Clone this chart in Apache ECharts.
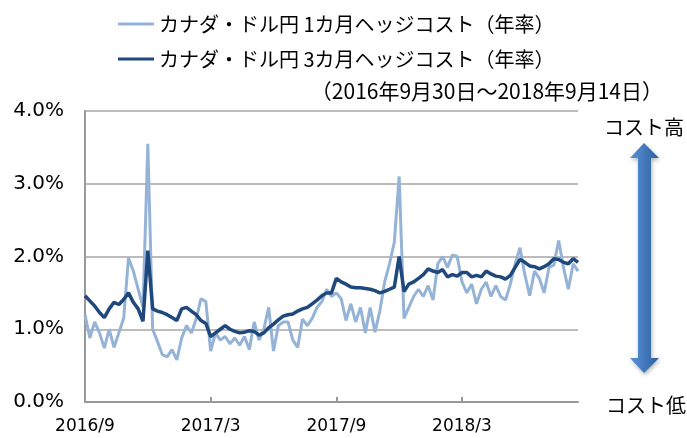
<!DOCTYPE html>
<html>
<head>
<meta charset="utf-8">
<script src="https://cdn.jsdelivr.net/npm/echarts@6/dist/echarts.min.js"></script>
<style>
  html, body { margin: 0; padding: 0; background: #fff; }
  #chart { width: 687px; height: 438px; }
</style>
</head>
<body>
<div id="chart"></div>
<script>
// 週次（金曜）の観測日：2016/9/30 から 2018/9/14 まで
var startDate = '2016/09/30';
var weekCount = 103;

// 1カ月ヘッジコスト（年率、%）
var cost1m = [
  1.20, 0.88, 1.10, 0.95, 0.74, 1.00, 0.75, 0.95, 1.15, 1.98,
  1.80, 1.55, 1.30, 3.55, 1.00, 0.83, 0.65, 0.62, 0.72, 0.58,
  0.88, 1.05, 0.95, 1.14, 1.42, 1.38, 0.70, 0.95, 0.85, 0.90,
  0.80, 0.88, 0.78, 0.90, 0.72, 1.10, 0.85, 1.00, 1.30, 0.70,
  1.05, 1.10, 1.10, 0.85, 0.75, 1.14, 1.05, 1.15, 1.30, 1.38,
  1.55, 1.45, 1.50, 1.42, 1.12, 1.35, 1.10, 1.30, 0.95, 1.30,
  0.96, 1.25, 1.65, 1.90, 2.20, 3.10, 1.15, 1.30, 1.45, 1.55,
  1.45, 1.60, 1.40, 1.90, 2.00, 1.85, 2.02, 2.00, 1.65, 1.50,
  1.62, 1.35, 1.55, 1.65, 1.45, 1.60, 1.45, 1.40, 1.62, 1.90,
  2.12, 1.75, 1.46, 1.80, 1.70, 1.50, 1.85, 1.88, 2.22, 1.85,
  1.55, 1.90, 1.80
];

// 3カ月ヘッジコスト（年率、%）
var cost3m = [
  1.46, 1.39, 1.32, 1.23, 1.16, 1.28, 1.37, 1.34, 1.41, 1.50,
  1.37, 1.28, 1.11, 2.08, 1.28, 1.25, 1.23, 1.20, 1.16, 1.12,
  1.28, 1.30, 1.25, 1.20, 1.12, 1.08, 0.90, 0.95, 1.00, 1.05,
  1.00, 0.97, 0.95, 0.96, 0.98, 0.97, 0.92, 0.95, 1.02, 1.07,
  1.13, 1.18, 1.20, 1.21, 1.25, 1.28, 1.30, 1.35, 1.40, 1.46,
  1.50, 1.50, 1.70, 1.65, 1.62, 1.58, 1.57, 1.57, 1.56, 1.55,
  1.53, 1.50, 1.52, 1.55, 1.58, 2.00, 1.52, 1.62, 1.65, 1.70,
  1.75, 1.83, 1.80, 1.78, 1.82, 1.72, 1.75, 1.73, 1.78, 1.78,
  1.72, 1.74, 1.72, 1.80, 1.76, 1.73, 1.72, 1.69, 1.74, 1.85,
  1.96, 1.92, 1.87, 1.86, 1.83, 1.86, 1.90, 1.97, 1.96, 1.92,
  1.90, 1.97, 1.92
];

var seriesNames = ['カナダ・ドル円 1カ月ヘッジコスト（年率）', 'カナダ・ドル円 3カ月ヘッジコスト（年率）'];
var periodText = '（2016年9月30日～2018年9月14日）';
var yTicks = [0, 1, 2, 3, 4];

var dates = [];
var d0 = new Date(startDate);
for (var i = 0; i < weekCount; i++) {
  var d = new Date(d0.getTime() + i * 7 * 86400000);
  dates.push(d.getFullYear() + '/' + (d.getMonth() + 1) + '/' + d.getDate());
}

var jp = 'Noto Sans CJK JP';
var chart = echarts.init(document.getElementById('chart'));

var option = {
  animation: false,
  color: ['#95b3d7', '#1f497d'],
  grid: { left: 85, right: 109, top: 111, bottom: 36 },
  legend: {
    orient: 'vertical',
    left: 113,
    top: 9,
    icon: 'rect',
    itemWidth: 36,
    itemHeight: 3,
    itemGap: 15,
    textStyle: { fontFamily: jp, fontSize: 20, color: '#000' },
    data: seriesNames
  },
  xAxis: {
    type: 'category',
    data: dates,
    boundaryGap: false,
    axisLine: { lineStyle: { color: '#999', width: 2 } },
    axisTick: {
      inside: true, length: 5, lineStyle: { color: '#999', width: 2 },
      interval: function (idx) { return idx % 26 === 0; }
    },
    axisLabel: {
      interval: function (idx) { return idx % 26 === 0; },
      formatter: function (v) { var p = v.split('/'); return p[0] + '/' + p[1]; },
      fontFamily: 'DejaVu Sans', fontSize: 17, color: '#000', margin: 16
    }
  },
  yAxis: {
    type: 'value',
    min: yTicks[0],
    max: yTicks[yTicks.length - 1],
    interval: 1,
    axisLine: { show: true, lineStyle: { color: '#999', width: 2 } },
    axisTick: { show: false },
    splitLine: { lineStyle: { color: '#a6a6a6', width: 1.5 } },
    axisLabel: {
      formatter: function (v) { return v.toFixed(1) + '%'; },
      fontFamily: 'DejaVu Sans', fontSize: 20, color: '#000', margin: 21
    }
  },
  series: [
    {
      name: seriesNames[0], type: 'line', data: cost1m,
      symbol: 'none', lineStyle: { width: 3, color: '#95b3d7' }
    },
    {
      name: seriesNames[1], type: 'line', data: cost3m,
      symbol: 'none', lineStyle: { width: 3.5, color: '#1f497d' }
    }
  ],
  graphic: [
    {
      type: 'text', right: 24, top: 81,
      style: { text: periodText, font: '21px "Noto Sans CJK JP"', fill: '#000' }
    },
    {
      type: 'text', x: 644, y: 127,
      style: { text: 'コスト高', font: '20px "Noto Sans CJK JP"', fill: '#000', align: 'center', verticalAlign: 'middle' }
    },
    {
      type: 'text', x: 646, y: 405,
      style: { text: 'コスト低', font: '20px "Noto Sans CJK JP"', fill: '#000', align: 'center', verticalAlign: 'middle' }
    },
    {
      type: 'polygon',
      shape: {
        points: [[644, 143], [659, 158], [651, 158], [651, 358], [659, 358],
                 [644, 373], [630, 358], [638, 358], [638, 158], [630, 158]]
      },
      style: {
        fill: new echarts.graphic.LinearGradient(0, 0, 1, 0, [
          { offset: 0, color: '#5a92d8' },
          { offset: 1, color: '#2c5f9f' }
        ]),
        shadowBlur: 4, shadowOffsetX: 1, shadowOffsetY: 2, shadowColor: 'rgba(0,0,0,0.3)'
      }
    }
  ]
};

chart.setOption(option);
</script>
</body>
</html>
